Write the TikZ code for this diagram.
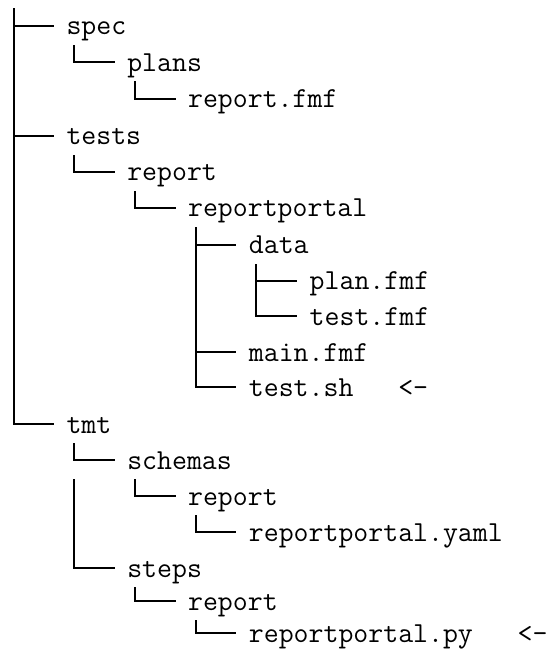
\documentclass[tikz,border=0pt]{standalone}
\usepackage{tikz}

\begin{document}
\begin{tikzpicture}[x=0.5pt,y=-0.5pt,line width=1pt,
    entry/.style={anchor=west,inner sep=0pt,text height=14pt,text depth=5pt,
        font=\ttfamily\fontsize{14.5pt}{17pt}\selectfont},
    branch/.style={line cap=rect}]

        \useasboundingbox (0,0) rectangle (556,657);

        % Defining the entries of the tree
        \coordinate (root) at (13.7,9);
        \node[entry] (spec)          at (65.5,26)  {spec};
        \node[entry] (plans)         at (126.3,62.5) {plans};
        \node[entry] (reportfmf)     at (187.1,99) {report.fmf};
        \node[entry] (tests)         at (65.5,136) {tests};
        \node[entry] (testsreport)   at (126.3,172) {report};
        \node[entry] (reportportal)  at (187.1,208) {reportportal};
        \node[entry] (data)          at (247.9,245) {data};
        \node[entry] (planfmf)       at (308.7,281) {plan.fmf};
        \node[entry] (testfmf)       at (308.7,316) {test.fmf};
        \node[entry] (mainfmf)       at (247.9,352) {main.fmf};
        \node[entry] (testsh)        at (247.9,387) {test.sh\ \ \ <-};
        \node[entry] (tmt)           at (65.5,424) {tmt};
        \node[entry] (schemas)       at (126.3,460) {schemas};
        \node[entry] (schemasreport) at (187.1,496) {report};
        \node[entry] (yaml)          at (247.9,532) {reportportal.yaml};
        \node[entry] (steps)         at (126.3,568) {steps};
        \node[entry] (stepsreport)   at (187.1,601) {report};
        \node[entry] (py)            at (247.9,633) {reportportal.py\ \ \ <-};

        % The vertical below schemas starts again under its row
        \coordinate (tmtgap) at ([xshift=4.25pt]tmt.west |- schemas.south);

        % Defining the links between the entries
        \draw[branch] (root) |- ([xshift=-6.25pt]spec.west);
        \draw[branch] (root) |- ([xshift=-6.25pt]tests.west);
        \draw[branch] (root) |- ([xshift=-6.25pt]tmt.west);
        \draw[branch] ([xshift=4.25pt]spec.south west) |- ([xshift=-6.25pt]plans.west);
        \draw[branch] ([xshift=4.25pt]plans.south west) |- ([xshift=-6.25pt]reportfmf.west);
        \draw[branch] ([xshift=4.25pt]tests.south west) |- ([xshift=-6.25pt]testsreport.west);
        \draw[branch] ([xshift=4.25pt]testsreport.south west) |- ([xshift=-6.25pt]reportportal.west);
        \draw[branch] ([xshift=4.25pt]reportportal.south west) |- ([xshift=-6.25pt]data.west);
        \draw[branch] ([xshift=4.25pt]reportportal.south west) |- ([xshift=-6.25pt]mainfmf.west);
        \draw[branch] ([xshift=4.25pt]reportportal.south west) |- ([xshift=-6.25pt]testsh.west);
        \draw[branch] ([xshift=4.25pt]data.south west) |- ([xshift=-6.25pt]planfmf.west);
        \draw[branch] ([xshift=4.25pt]data.south west) |- ([xshift=-6.25pt]testfmf.west);
        \draw[branch] ([xshift=4.25pt]tmt.south west) |- ([xshift=-6.25pt]schemas.west);
        \draw[branch] (tmtgap) |- ([xshift=-6.25pt]steps.west);
        \draw[branch] ([xshift=4.25pt]schemas.south west) |- ([xshift=-6.25pt]schemasreport.west);
        \draw[branch] ([xshift=4.25pt]schemasreport.south west) |- ([xshift=-6.25pt]yaml.west);
        \draw[branch] ([xshift=4.25pt]steps.south west) |- ([xshift=-6.25pt]stepsreport.west);
        \draw[branch] ([xshift=4.25pt]stepsreport.south west) |- ([xshift=-6.25pt]py.west);

\end{tikzpicture}
\end{document}
